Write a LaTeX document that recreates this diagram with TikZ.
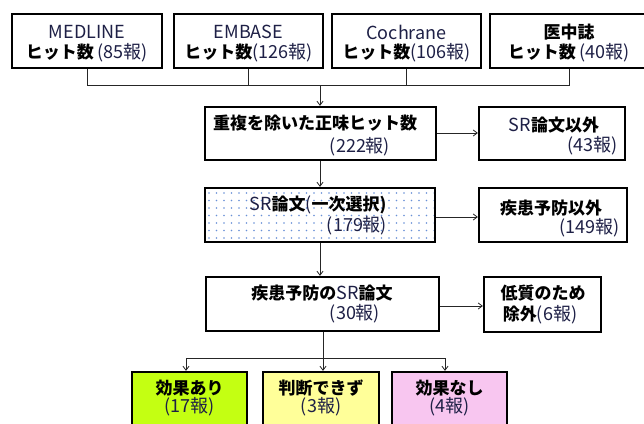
\documentclass[tikz,border=0pt]{standalone}
\usepackage{fontspec}
\setmainfont{Noto Sans CJK JP}
\usetikzlibrary{arrows.meta}
\definecolor{latc}{RGB}{30,32,70}
\definecolor{dotc}{RGB}{105,145,215}
\definecolor{gfill}{RGB}{196,255,18}
\definecolor{yfill}{RGB}{255,255,153}
\definecolor{pfill}{RGB}{248,198,240}
\newcommand{\lt}[1]{{\mdseries\fontsize{18}{20}\selectfont\color{latc}#1}}
\tikzset{
  boxn/.style={draw=black, line width=2.3pt, rectangle, inner sep=0pt},
  txt/.style={inner sep=0pt, font=\bfseries\fontsize{17}{20}\selectfont, text=black},
  conn/.style={draw=black!85, line width=0.9pt},
  arr/.style={conn, -{Straight Barb[length=4pt,width=6pt,line width=0.8pt]}}
}
\begin{document}
\begin{tikzpicture}[x=1pt,y=-1pt]
\useasboundingbox (0,0) rectangle (644,423);
\fill[white] (0,0) rectangle (644,423);
\begin{scope}
\clip (0,0) rectangle (644,423);
% top boxes
\node[boxn, minimum width=150pt, minimum height=54pt] (m) at (87,41) {};
\node[boxn, minimum width=149pt, minimum height=54pt] (e) at (248.5,41) {};
\node[boxn, minimum width=149pt, minimum height=54pt] (c) at (406.5,41) {};
\node[boxn, minimum width=158pt, minimum height=54pt] (i) at (569,41) {};
\node[txt] (mt1) at (87,32) {\lt{MEDLINE}};
\node[txt] (mt2) at (87,53) {ヒット数 \lt{(85報)}};
\node[txt] (et1) at (248.5,32) {\lt{EMBASE}};
\node[txt] (et2) at (248.5,53) {ヒット数\lt{(126報)}};
\node[txt] (ct1) at (406.5,32) {\lt{Cochrane}};
\node[txt] (ct2) at (406.5,53) {ヒット数\lt{(106報)}};
\node[txt] (it1) at (569,32) {医中誌};
\node[txt] (it2) at (569,53) {ヒット数 \lt{(40報)}};
% second row
\node[boxn, minimum width=231pt, minimum height=53pt] (b2) at (320.5,133.5) {};
\node[txt, anchor=west] (b2t1) at (213,123) {重複を除いた正味ヒット数};
\node[txt] (b2t2) at (360,147) {\lt{(222報)}};
\node[boxn, minimum width=146pt, minimum height=53pt] (x1) at (552,133.5) {};
\node[txt] (x1t1) at (554,125) {\lt{SR}論文以外};
\node[txt, anchor=east] (x1t2) at (618,146) {\lt{(43報)}};
% third row
\node[boxn, minimum width=230pt, minimum height=54pt] (b3) at (320,215) {};
\begin{scope}
\clip (206.5,189.5) rectangle (433.5,240.5);
\foreach \xx in {0,...,30} {
  \foreach \yy in {0,...,6} {
    \fill[dotc] (209+\xx*7.5,193+\yy*7.5) circle (0.8);
  }
}
\end{scope}
\node[txt] (b3t1) at (318,205) {\lt{SR}論文\lt{(}一次選択)};
\node[txt] (b3t2) at (357,226) {\lt{(179報)}};
\node[boxn, minimum width=148pt, minimum height=54pt] (x2) at (553,215) {};
\node[txt] (x2t1) at (551,208) {疾患予防以外};
\node[txt, anchor=east] (x2t2) at (620,228) {\lt{(149報)}};
% fourth row
\node[boxn, minimum width=233pt, minimum height=54pt] (b4) at (322.5,304) {};
\node[txt] (b4t1) at (322,293) {疾患予防の\lt{SR}論文};
\node[txt] (b4t2) at (355,314) {\lt{(30報)}};
\node[boxn, minimum width=117pt, minimum height=55pt] (x3) at (542.5,304.5) {};
\node[txt] (x3t1) at (543,293) {低質のため};
\node[txt] (x3t2) at (540,315) {除外\lt{(6報)}};
% bottom row
\node[boxn, fill=gfill, minimum width=115pt, minimum height=80pt] (r1) at (189.5,412) {};
\node[boxn, fill=yfill, minimum width=116pt, minimum height=80pt] (r2) at (321,412) {};
\node[boxn, fill=pfill, minimum width=115pt, minimum height=80pt] (r3) at (449.5,412) {};
\node[txt] (r1t1) at (189.5,388) {効果あり};
\node[txt] (r1t2) at (189.5,407) {\lt{(17報)}};
\node[txt] (r2t1) at (321,388) {判断できず};
\node[txt] (r2t2) at (321,407) {\lt{(3報)}};
\node[txt] (r3t1) at (449.5,388) {効果なし};
\node[txt] (r3t2) at (449.5,407) {\lt{(4報)}};
% connectors top
\coordinate (bus) at (320,85);
\draw[conn] (m.south) |- (bus);
\draw[conn] (i.south) |- (bus);
\draw[conn] (e.south) -- (e.south |- bus);
\draw[conn] (c.south) -- (c.south |- bus);
\draw[arr] (bus) -- (bus |- b2.north);
\draw[arr] (b2.east |- 0,133) -- (x1.west |- 0,133);
\draw[arr] (b2.south -| 320,0) -- (b3.north -| 320,0);
\draw[arr] (b3.east |- 0,217) -- (x2.west |- 0,217);
\draw[arr] (b3.south -| 320,0) -- (b4.north -| 320,0);
\draw[arr] (b4.east |- 0,306) -- (x3.west |- 0,306);
% bottom connectors
\coordinate (bus2) at (323,358);
\coordinate (a1) at (186,358);
\coordinate (a3) at (445,358);
\draw[conn] (b4.south -| bus2) -- (bus2);
\draw[conn] (a1) -- (a3);
\draw[arr] (a1) -- (a1 |- r1.north);
\draw[arr] (bus2) -- (bus2 |- r2.north);
\draw[arr] (a3) -- (a3 |- r3.north);
\end{scope}
\end{tikzpicture}
\end{document}
